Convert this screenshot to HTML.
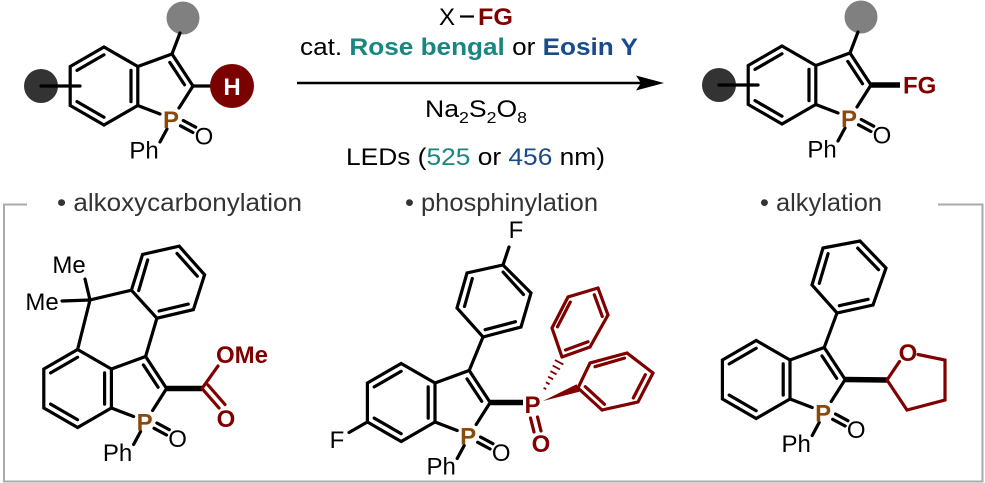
<!DOCTYPE html>
<html><head><meta charset="utf-8">
<style>
html,body{margin:0;padding:0;background:#fff;}
svg{display:block;}
text{font-family:"Liberation Sans",Arial,sans-serif;}
.b{stroke:#000;stroke-width:3.2;fill:none;stroke-linecap:round;stroke-linejoin:miter;}
.br{stroke:#800000;stroke-width:3.2;fill:none;stroke-linecap:round;stroke-linejoin:miter;}
.bb{stroke:#000;stroke-width:5.5;fill:none;}
.a{font-size:24px;text-anchor:middle;fill:#000;}
.P{font-size:24px;font-weight:bold;text-anchor:middle;fill:#8a4a0b;}
.r{font-size:24px;font-weight:bold;fill:#800000;}
.lab{font-size:25px;fill:#333;}
</style></head>
<body>
<svg width="985" height="483" viewBox="0 0 985 483" xmlns="http://www.w3.org/2000/svg">

<!-- bracket -->
<path d="M27,204.5H4V481.5H982.5V204.5H938" stroke="#a9a9a9" stroke-width="2" fill="none"/>

<!-- ===== Starting material ===== -->
<g>
<circle cx="183" cy="18" r="16.5" fill="#808080"/>
<circle cx="41" cy="86" r="17" fill="#333"/>
<path class="b" d="M41,86L80,86M172,54L180,33M193,86L212,86"/>
<circle cx="232" cy="86" r="22" fill="#7b0000"/>
<text x="232" y="95" font-size="24" font-weight="bold" fill="#fff" text-anchor="middle">H</text>
<polygon class="b" points="104,47 137.8,66.5 137.8,105.5 104,125 70.2,105.5 70.2,66.5"/>
<path class="b" d="M77,70.4L104,54.8M77,101.6L104,117.2M131,70.4V101.6M137.8,66.5L172,54L193,86L179,108M137.8,105.5L160,114M169.8,62.4L184.5,84.8M180.5,125.8L192.9,132.5M183.3,120.5L195.7,127.2M167,129L160,142"/>
<text class="P" x="171" y="128">P</text>
<text class="a" x="204" y="144.5">O</text>
<text class="a" x="144" y="158.5">Ph</text>
</g>

<!-- ===== Conditions ===== -->
<text x="439" y="25" font-size="24">X</text>
<line x1="460" y1="16.5" x2="474" y2="16.5" stroke="#000" stroke-width="2.2"/>
<text x="478" y="25" class="r" textLength="35" lengthAdjust="spacingAndGlyphs">FG</text>
<text x="300" y="55" font-size="24" textLength="338" lengthAdjust="spacingAndGlyphs">cat. <tspan font-weight="bold" fill="#17877f">Rose bengal</tspan> or <tspan font-weight="bold" fill="#184b8c">Eosin Y</tspan></text>
<line x1="297" y1="83" x2="645" y2="83" stroke="#000" stroke-width="2.6"/>
<path d="M664,83L636,75.5L641,83L636,90.5Z" fill="#000"/>
<text x="425" y="117" font-size="24" textLength="102" lengthAdjust="spacingAndGlyphs">Na<tspan font-size="16" dy="6">2</tspan><tspan dy="-6">S</tspan><tspan font-size="16" dy="6">2</tspan><tspan dy="-6">O</tspan><tspan font-size="16" dy="6">8</tspan></text>
<text x="346" y="165" font-size="24" textLength="259" lengthAdjust="spacingAndGlyphs">LEDs (<tspan fill="#17877f">525</tspan> or <tspan fill="#184b8c">456</tspan> nm)</text>

<!-- ===== Product ===== -->
<g transform="translate(678,-1)">
<circle cx="183" cy="18" r="16.5" fill="#808080"/>
<circle cx="41" cy="86" r="17" fill="#333"/>
<path class="b" d="M41,86L80,86M172,54L180,33"/>
<path class="bb" d="M193,86L222,86"/>
<text class="r" x="225" y="94.5">FG</text>
<polygon class="b" points="104,47 137.8,66.5 137.8,105.5 104,125 70.2,105.5 70.2,66.5"/>
<path class="b" d="M77,70.4L104,54.8M77,101.6L104,117.2M131,70.4V101.6M137.8,66.5L172,54L193,86L179,108M137.8,105.5L160,114M169.8,62.4L184.5,84.8M180.5,125.8L192.9,132.5M183.3,120.5L195.7,127.2M167,129L160,142"/>
<text class="P" x="171" y="128">P</text>
<text class="a" x="204" y="144.5">O</text>
<text class="a" x="144" y="158.5">Ph</text>
</g>

<!-- ===== Labels ===== -->
<text class="lab" x="57" y="211" textLength="245" lengthAdjust="spacingAndGlyphs">• alkoxycarbonylation</text>
<text class="lab" x="405" y="211" textLength="193" lengthAdjust="spacingAndGlyphs">• phosphinylation</text>
<text class="lab" x="760" y="211" textLength="122" lengthAdjust="spacingAndGlyphs">• alkylation</text>

<!-- ===== Molecule 1: alkoxycarbonylation ===== -->
<g transform="translate(-26.4,302.5)">
<polygon class="b" points="104,47 137.8,66.5 137.8,105.5 104,125 70.2,105.5 70.2,66.5"/>
<path class="b" d="M77,70.4L104,54.8M77,101.6L104,117.2M131,70.4V101.6M137.8,66.5L172,54L193,86L179,108M137.8,105.5L160,114M169.8,62.4L184.5,84.8M180.5,125.8L192.9,132.5M183.3,120.5L195.7,127.2M167,129L160,142"/>
<text class="P" x="171" y="128">P</text>
<text class="a" x="204" y="144.5">O</text>
<text class="a" x="144" y="158.5">Ph</text>
</g>
<polygon class="b" points="142.6,254.4 179.2,246.2 204.6,274.8 193.4,309.6 156.9,318.2 131.4,290.2"/>
<path class="b" d="M147.7,259.9L138.7,290.6M177,253.4L197.3,276.2M188.3,304.1L159.1,311M156.9,318.2L145.6,356.5M131.4,290.2L90,300L77.6,349.5M90,300L85,279M90,300L62,301"/>
<text class="a" x="69" y="273">Me</text>
<text class="a" x="42" y="310">Me</text>
<path class="bb" d="M166.6,388.5L202,388.5"/>
<path class="br" d="M202,388.5L219,408M208,385L225,404.5M202,388.5L218,366"/>
<text class="r" x="226" y="427" text-anchor="middle">O</text>
<text class="r" x="216" y="363">OMe</text>

<!-- ===== Molecule 2: phosphinylation ===== -->
<g transform="translate(297.2,316.5)">
<polygon class="b" points="104,47 137.8,66.5 137.8,105.5 104,125 70.2,105.5 70.2,66.5"/>
<path class="b" d="M77,70.4L104,54.8M77,101.6L104,117.2M131,70.4V101.6M137.8,66.5L172,54L193,86L179,108M137.8,105.5L160,114M169.8,62.4L184.5,84.8M180.5,125.8L192.9,132.5M183.3,120.5L195.7,127.2M167,129L160,142"/>
<text class="P" x="171" y="128">P</text>
<text class="a" x="204" y="144.5">O</text>
<text class="a" x="144" y="158">Ph</text>
</g>
<path class="b" d="M367.4,422L349,432.5"/>
<text class="a" x="337" y="448">F</text>
<path class="b" d="M503,265L531,293L521,327L483,337L457,308L467,273Z"/>
<path class="b" d="M464.5,306.5L472.3,278.5M503.1,272.1L523.5,294.5M515.5,321.7L485.1,329.7M483,337L469.2,370.5M503,265L509,247"/>
<text class="a" x="516" y="238">F</text>
<path class="bb" d="M490.2,402.5L523,402.5"/>
<text class="r" x="532.5" y="413" text-anchor="middle">P</text>
<path class="br" d="M530.5,418L534,432M537.5,417L541,431" stroke-width="2.8"/>
<text class="r" x="541" y="452" text-anchor="middle">O</text>
<!-- hashed wedge -->
<path stroke="#800000" stroke-width="1.8" fill="none" d="M543.6,387.8L546.2,389.2M545.9,382.2L549.6,384.3M548.1,376.7L553.1,379.3M550.4,371.1L556.5,374.4M552.7,365.5L560,369.5M554.9,360L563.4,364.6"/>
<!-- phenyl 1 -->
<path class="br" d="M562,357L552,328L568,297L598,288"/>
<path class="br" d="M598,288L608,315L590,347" stroke-width="6"/>
<path class="br" d="M590,347L562,357" stroke-width="4.5"/>
<path class="br" d="M557.5,326.8L570.3,302M594.3,294.8L602.3,316.4M588,341.8L565.5,350" stroke-width="3"/>
<!-- solid wedge -->
<polygon points="543,401 576.6,384.3 579.4,391.7" fill="#800000"/>
<!-- phenyl 2 -->
<path class="br" d="M578,388L590,363L627,353L653,373"/>
<path class="br" d="M653,373L638,402L602,410" stroke-width="6"/>
<path class="br" d="M602,410L578,388" stroke-width="4.5"/>
<path class="br" d="M595,366.7L624.5,358.1M645.3,374.7L633.3,398M604.5,404.3L585.3,386.7" stroke-width="3"/>

<!-- ===== Molecule 3: alkylation ===== -->
<g transform="translate(652.2,293.5)">
<polygon class="b" points="104,47 137.8,66.5 137.8,105.5 104,125 70.2,105.5 70.2,66.5"/>
<path class="b" d="M77,70.4L104,54.8M77,101.6L104,117.2M131,70.4V101.6M137.8,66.5L172,54L193,86L179,108M137.8,105.5L160,114M169.8,62.4L184.5,84.8M180.5,125.8L192.9,132.5M183.3,120.5L195.7,127.2M167,129L160,142"/>
<text class="P" x="171" y="128">P</text>
<text class="a" x="204" y="144.5">O</text>
<text class="a" x="144" y="158.5">Ph</text>
</g>
<path class="b" d="M823,248L860,241L886,268L873,305L837,313L812,285Z"/>
<path class="b" d="M828.1,253.7L819.3,283.3M857.7,248.1L878.5,269.7M868.1,299.3L839.3,305.7M837,313L824.2,347.5"/>
<path class="bb" d="M845.2,379.5L887,380"/>
<path class="br" d="M887,380L899.5,361.5M918,354.5L945,360L945,400L907,410L887,380" stroke-width="3"/>
<text class="r" x="908" y="361" text-anchor="middle">O</text>

</svg>
</body></html>
